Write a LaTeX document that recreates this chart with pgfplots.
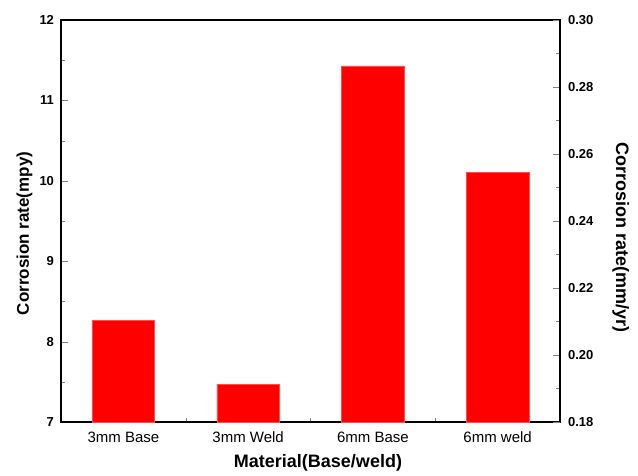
\documentclass[border=0pt]{standalone}
\usepackage{fontspec}
\setmainfont{Liberation Sans}
\usepackage{pgfplots}
\pgfplotsset{compat=1.18}
\begin{document}
\begin{tikzpicture}[x=1pt,y=1pt]
\path[use as bounding box] (-61,-53) rectangle (577,422);
\pgfplotsset{
  every axis/.append style={
    scale only axis, width=499pt, height=402pt,
    at={(0,0)}, anchor=south west,
    line width=1.4pt,
    tick align=inside,
    major tick length=7pt, minor tick length=4pt,
    /pgf/number format/assume math mode=true,
    tick label style={font=\fontsize{13}{15}\selectfont\bfseries},
  }
}
% left axis: corrosion rate in mpy, with the bars
\begin{axis}[
  xmin=-0.5, xmax=3.5, ymin=7, ymax=12,
  xtick={0,1,2,3},
  xticklabels={3mm Base,3mm Weld,6mm Base,6mm weld},
  minor xtick={0.5,1.5,2.5},
  xtick pos=left, ytick pos=left,
  ytick={7,8,9,10,11,12},
  minor ytick={7.5,8.5,9.5,10.5,11.5},
  x tick label style={font=\fontsize{15}{17}\selectfont, yshift=-6pt},
  y tick label style={xshift=-3pt},
  xlabel={\bfseries Material(Base/weld)},
  ylabel={\bfseries Corrosion rate(mpy)},
  xlabel style={font=\fontsize{18}{20}\selectfont,
    at={(axis description cs:0.515,-0.102)}, anchor=center},
  ylabel style={font=\fontsize{17}{19}\selectfont,
    at={(axis description cs:-0.073,0.469)}, anchor=center},
]
\addplot[ybar, bar width=0.5, fill=red, draw=red!70!white, line width=0.4pt]
  coordinates {(0,8.265) (1,7.47) (2,11.43) (3,10.105)};
\end{axis}
% right axis: the same rate in mm/yr
\begin{axis}[
  xmin=-0.5, xmax=3.5, ymin=0.18, ymax=0.30,
  axis x line=none,
  axis y line*=right,
  ytick={0.18,0.20,0.22,0.24,0.26,0.28,0.30},
  minor ytick={0.19,0.21,0.23,0.25,0.27,0.29},
  yticklabel style={xshift=4pt, /pgf/number format/.cd, fixed, fixed zerofill, precision=2},
  ylabel={\bfseries Corrosion rate(mm/yr)},
  ylabel style={font=\fontsize{18}{20}\selectfont,
    at={(axis description cs:1.122,0.46)}, anchor=center, rotate=180},
]
\addplot[draw=none] coordinates {(0,0.2)};
\end{axis}
\end{tikzpicture}
\end{document}
